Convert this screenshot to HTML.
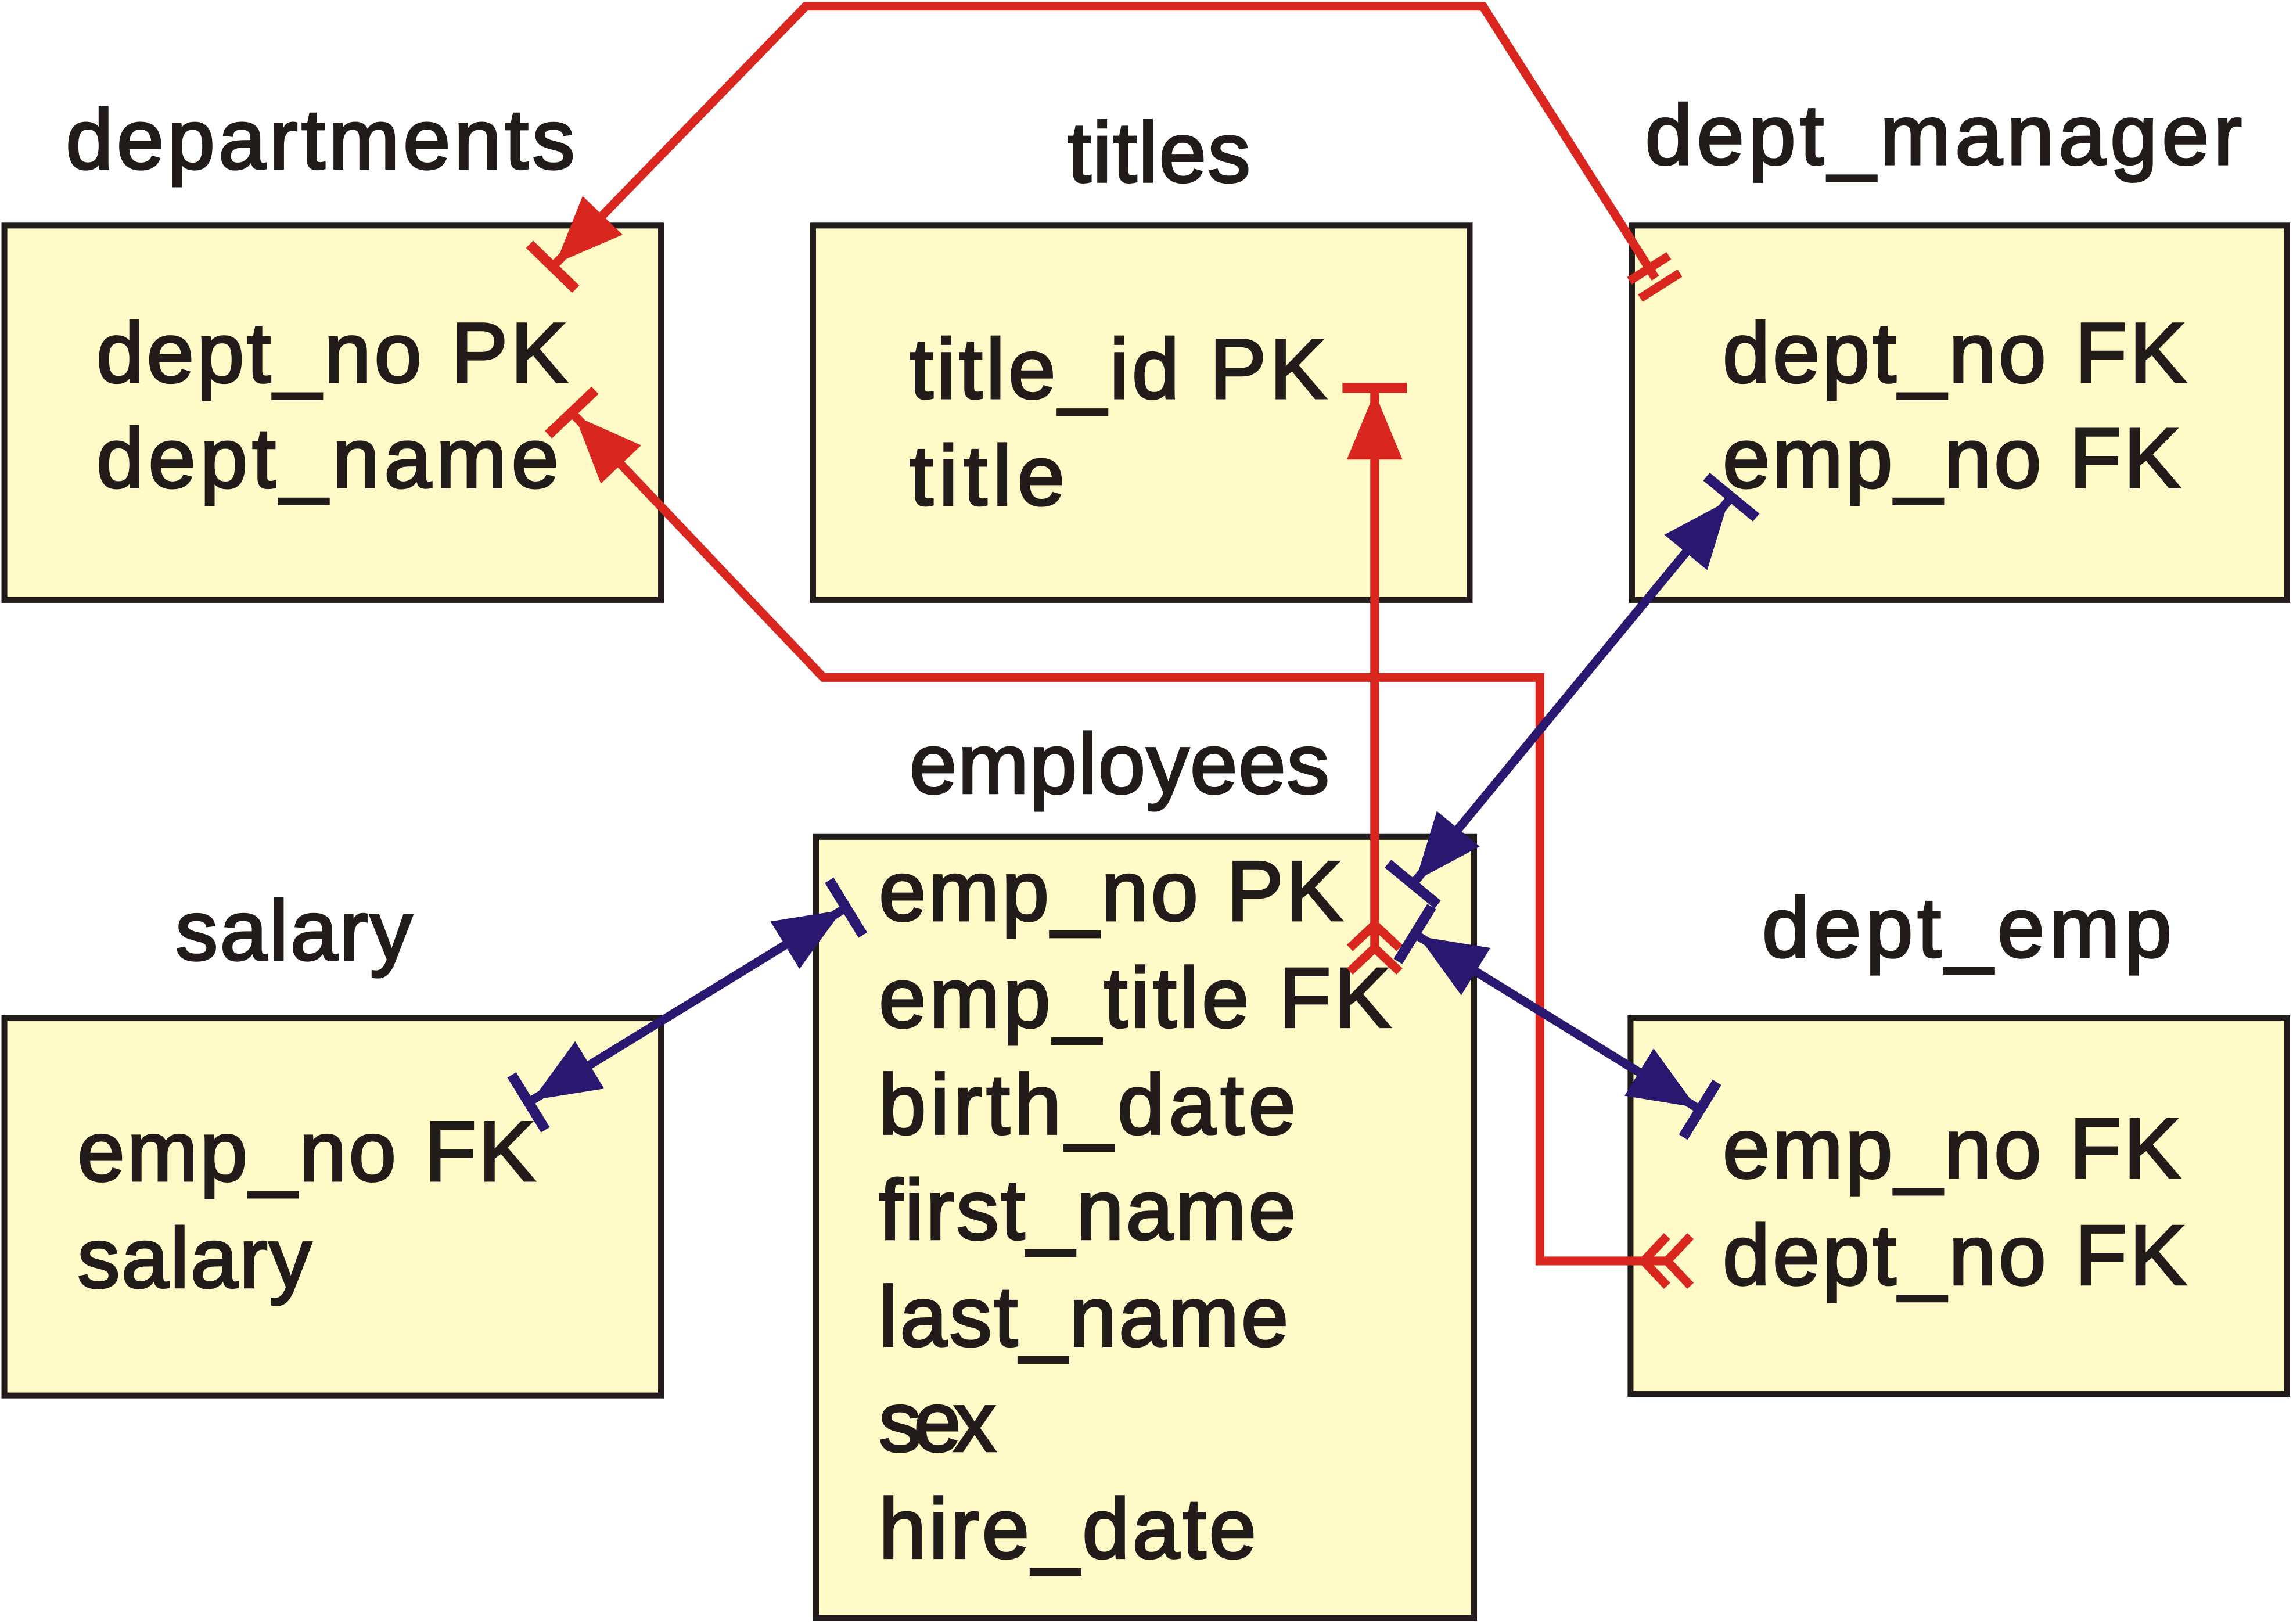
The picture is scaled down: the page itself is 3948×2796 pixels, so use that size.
<!DOCTYPE html>
<html><head><meta charset="utf-8"><style>
html,body{margin:0;padding:0;background:#fff;}
svg{display:block}
text{font-family:"Liberation Sans",sans-serif;fill:#211c1a;font-size:58px;stroke:#211c1a;stroke-width:1.6px;}
</style></head><body>
<svg width="3948" height="2796" viewBox="0 0 1568 1110" xmlns="http://www.w3.org/2000/svg">
<defs>
<marker id="arR" markerUnits="userSpaceOnUse" markerWidth="100" markerHeight="100" refX="0" refY="0" viewBox="-60 -50 100 100" orient="auto-start-reverse" overflow="visible">
<path d="M0,0 L-46,-19 L-46,19 Z" fill="#d9261f"/>
<line x1="3" y1="-22" x2="3" y2="22" stroke="#d9261f" stroke-width="7"/>
</marker>
<marker id="arB" markerUnits="userSpaceOnUse" markerWidth="100" markerHeight="100" refX="0" refY="0" viewBox="-60 -50 100 100" orient="auto-start-reverse" overflow="visible">
<path d="M0,0 L-46,-19 L-46,19 Z" fill="#2a1870"/>
<line x1="3" y1="-22" x2="3" y2="22" stroke="#2a1870" stroke-width="7"/>
</marker>
<marker id="crow" markerUnits="userSpaceOnUse" markerWidth="80" markerHeight="80" refX="0" refY="0" viewBox="-40 -40 80 80" orient="auto-start-reverse" overflow="visible">
<path d="M0,-17 L-16,0 L0,17 M16,-17 L0,0 L16,17" fill="none" stroke="#d9261f" stroke-width="6"/>
</marker>
<marker id="dbl" markerUnits="userSpaceOnUse" markerWidth="80" markerHeight="80" refX="0" refY="0" viewBox="-40 -40 80 80" orient="auto" overflow="visible">
<path d="M-8,-16 L-8,16 M6,-16 L6,16" fill="none" stroke="#d9261f" stroke-width="6"/>
</marker>
</defs>
<g fill="#fffbc8" stroke="#211c1a" stroke-width="4">
<rect x="3" y="154" width="449" height="256"/>
<rect x="556" y="154" width="449" height="256"/>
<rect x="1116" y="154" width="448" height="256"/>
<rect x="3" y="696" width="449" height="258"/>
<rect x="558" y="572" width="450" height="534"/>
<rect x="1115" y="696" width="449" height="257"/>
</g>
<text x="45" y="115" textLength="348">departments</text>
<text x="730" y="124" textLength="125">titles</text>
<text x="1125" y="112" textLength="408">dept_manager</text>
<text x="120" y="656" textLength="162">salary</text>
<text x="622" y="542" textLength="287">employees</text>
<text x="1205" y="654" textLength="280">dept_emp</text>

<text x="66" y="261" textLength="322">dept_no PK</text>
<text x="66" y="333" textLength="316">dept_name</text>
<text x="622" y="272" textLength="285">title_id PK</text>
<text x="622" y="345" textLength="106">title</text>
<text x="1178" y="261" textLength="317">dept_no FK</text>
<text x="1178" y="333" textLength="313">emp_no FK</text>
<text x="53" y="807" textLength="313">emp_no FK</text>
<text x="53" y="880" textLength="160">salary</text>
<text x="601" y="629" textLength="317">emp_no PK</text>
<text x="601" y="702" textLength="350">emp_title FK</text>
<text x="601" y="775" textLength="285">birth_date</text>
<text x="601" y="847" textLength="285">first_name</text>
<text x="601" y="920" textLength="280">last_name</text>
<text x="601" y="992" textLength="80">sex</text>
<text x="601" y="1065" textLength="258">hire_date</text>
<text x="1178" y="805" textLength="313">emp_no FK</text>
<text x="1178" y="878" textLength="317">dept_no FK</text>

<g fill="none" stroke="#d9261f" stroke-width="6">
<polyline points="380,180 551,4 1014,4 1132,190" marker-start="url(#arR)" marker-end="url(#dbl)"/>
<polyline points="1140,862 1053,862 1053,463 563,463 393,284" marker-start="url(#crow)" marker-end="url(#arR)"/>
<line x1="940" y1="648" x2="940" y2="268" marker-start="url(#crow)" marker-end="url(#arR)"/>
</g>
<g fill="none" stroke="#2a1870" stroke-width="6">
<line x1="364" y1="752" x2="576" y2="622" marker-start="url(#arB)" marker-end="url(#arB)"/>
<line x1="968" y1="602" x2="1182" y2="342" marker-start="url(#arB)" marker-end="url(#arB)"/>
<line x1="970" y1="640" x2="1160" y2="757" marker-start="url(#arB)" marker-end="url(#arB)"/>
</g>
</svg>
</body></html>
